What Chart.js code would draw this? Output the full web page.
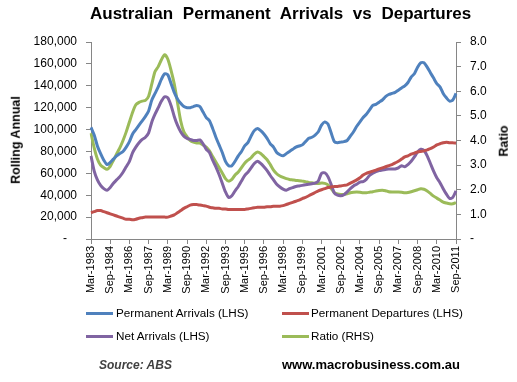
<!DOCTYPE html>
<html><head><meta charset="utf-8">
<script src="https://cdn.jsdelivr.net/npm/chart.js@4/dist/chart.umd.min.js"></script>
<style>
html,body{margin:0;padding:0;background:#fff;}
#wrap{position:relative;width:517px;height:382px;overflow:hidden;font-family:"Liberation Sans",Arial,sans-serif;color:#000;}
canvas{position:absolute;left:0;top:0;}
.t{position:absolute;white-space:nowrap;line-height:1;}
.rot{position:absolute;white-space:nowrap;line-height:1;transform:translate(-50%,-50%) rotate(-90deg);font-weight:bold;font-size:12.5px;}
.sw{position:absolute;height:3px;width:27px;}
</style></head>
<body><div id="wrap">
<canvas id="c" width="517" height="382"></canvas>
<div class="t" style="left:90px;top:5px;font-size:17px;font-weight:bold;word-spacing:5px;">Australian Permanent Arrivals vs Departures</div>
<div class="rot" style="left:16px;top:140px;">Rolling Annual</div>
<div class="rot" style="left:504px;top:141px;">Ratio</div>
<div id="legend"></div>
<div class="t" style="left:99px;top:359px;font-size:12px;font-weight:bold;font-style:italic;color:#404040;">Source: ABS</div>
<div class="t" style="left:282px;top:358px;font-size:13px;font-weight:bold;">www.macrobusiness.com.au</div>
</div>
<script>
// Quarterly categories Mar-1983 .. Sep-2011
const months = ["Mar","Jun","Sep","Dec"];
const quarters = [];
for (let y = 1983; y <= 2011; y++) for (const m of months) { if (y === 2011 && m === "Dec") break; quarters.push(m + "-" + y); }

const tickLabels = ["Mar-1983","Sep-1984","Mar-1986","Sep-1987","Mar-1989","Sep-1990","Mar-1992","Sep-1993","Mar-1995","Sep-1996","Mar-1998","Sep-1999","Mar-2001","Sep-2002","Mar-2004","Sep-2005","Mar-2007","Sep-2008","Mar-2010","Sep-2011"];

// Rolling annual, thousands
const arrivals = [102,95,85,78,72,68,70,73,76,78,80,84,89,96,100,104,108,112,117,127,133,139,146,151,150,142,134,128,124,121,120,120,121,122,121,116,111,108,101,93,86,79,71,67,67,71,76,80,85,88,94,99,101,99,96,92,87,84,79,77,76,78,80,82,84,85,86,89,92,93,95,98,104,107,105,97,89,88,88.5,89,90,94,98,103,107,111,114,118,122,123,125,127,130,132,133,134,136,138,140,143,148,151,157,161,161,157,152,147,142,139,133,129,126,127,133];
const departures = [24,25,26,26,25,24,23,22,21,20,19,18,18,17.5,18,19,19.5,20,20,20,20,20,20,20,20,21,22,24,26,28,29.5,31,31.5,31.5,31,30.5,30,29,28.5,28,28,27.5,27.5,27,27,27,27,27,27,27.5,28,28.5,29,29,29,29.5,29.5,30,30,30,30.5,31.5,32.5,33.5,34.5,35.5,37,38,39.5,41,42.5,44,45,46,47,47.5,48,48,48.5,49,49.5,51,52.5,54,56,58.5,60,61,62,63,64,65,66,67,68,69.5,71,73,75,76,77.5,78.5,79.5,80,80.5,81.5,82.5,84,86,87,88,88.5,88,88,87.5];
const netArrivals = [76,62,54,49,46,44.5,47,51,54,57,61,66,71,79,84,88,91,93,97,107,114,120,126,130,129,122,112,104,98,94,92,91,90,90,90.5,87,82,79,72,66,59,51,43,38,39.5,44,48,53,58,61,65,69,71,69,66,62.5,58,54,50,47.5,45.5,44.5,46,47,48,48.5,49,49.5,50,50.5,51,53,60,60.5,57,50,42,40,39.5,40.5,43,46,48.5,50,52,52.5,54.5,58,60,61.5,62.5,63,63.5,64,64,64,65,67,66,68,71,75,79.5,82,81,76,69,62,56,51.5,46,41,37,38,44];
const ratio = [4.3,3.7,3.25,3.0,2.9,2.83,2.95,3.2,3.45,3.7,4.0,4.35,4.75,5.15,5.45,5.55,5.6,5.63,5.8,6.3,6.8,7.0,7.28,7.48,7.3,6.85,6.3,5.55,4.8,4.35,4.15,4.0,3.93,3.9,3.9,3.82,3.73,3.58,3.35,3.13,2.9,2.68,2.45,2.35,2.42,2.6,2.72,2.9,3.08,3.2,3.3,3.45,3.53,3.47,3.35,3.22,3.02,2.8,2.65,2.56,2.5,2.45,2.42,2.4,2.38,2.37,2.35,2.33,2.3,2.28,2.26,2.25,2.27,2.26,2.2,2.05,1.88,1.83,1.81,1.81,1.84,1.88,1.9,1.91,1.9,1.88,1.88,1.9,1.92,1.95,1.97,1.98,1.96,1.92,1.91,1.91,1.91,1.9,1.88,1.89,1.92,1.96,2.0,2.04,2.02,1.95,1.85,1.74,1.66,1.58,1.5,1.46,1.43,1.43,1.48];

const leftTicks = [0,20000,40000,60000,80000,100000,120000,140000,160000,180000];
const rightTicks = [0,1,2,3,4,5,6,7,8];

const seriesNames = ["Permanent Arrivals (LHS)","Permanent Departures (LHS)","Net Arrivals (LHS)","Ratio (RHS)"];
const colors = ["#4F81BD","#C0504D","#8064A2","#9BBB59"];

const toPeople = a => a.map(v => v * 1000);
const AX = "#868686";
const FONT = "Liberation Sans";

new Chart(document.getElementById("c"), {
  type: "line",
  data: {
    labels: quarters,
    datasets: [
      {label: seriesNames[0], data: toPeople(arrivals), borderColor: colors[0], yAxisID: "y"},
      {label: seriesNames[1], data: toPeople(departures), borderColor: colors[1], yAxisID: "y"},
      {label: seriesNames[2], data: toPeople(netArrivals), borderColor: colors[2], yAxisID: "y"},
      {label: seriesNames[3], data: ratio, borderColor: colors[3], yAxisID: "y1"}
    ]
  },
  options: {
    responsive: false, animation: false,
    layout: {padding: {top: 42, left: 0, right: 0, bottom: 0}},
    plugins: {legend: {display: false}, title: {display: false}, tooltip: {enabled: false}},
    elements: {point: {radius: 0}, line: {borderWidth: 3, tension: 0.25, fill: false}},
    scales: {
      x: {
        type: "category", offset: false,
        grid: {display: true, drawOnChartArea: false, drawTicks: true, tickLength: 5, color: AX, offset: false},
        border: {color: AX, width: 1},
        ticks: {autoSkip: false, maxRotation: 90, minRotation: 90, padding: 2, color: "#000",
          font: {family: FONT, size: 11},
          callback: (v, i) => tickLabels.includes(quarters[i]) ? quarters[i] : null},
        afterFit: s => { s.height = 143; }
      },
      y: {
        position: "left", min: 0, max: 180000,
        grid: {drawOnChartArea: false, drawTicks: true, tickLength: 5, color: AX},
        border: {color: AX, width: 1},
        afterBuildTicks: s => { s.ticks = leftTicks.map(v => ({value: v})); },
        ticks: {padding: 9, color: "#000", font: {family: FONT, size: 12},
          callback: v => v === 0 ? "-   " : v.toLocaleString("en-US")},
        afterFit: s => { s.width = 91; }
      },
      y1: {
        position: "right", min: 0, max: 8,
        grid: {drawOnChartArea: false, drawTicks: true, tickLength: 5, color: AX},
        border: {color: AX, width: 1},
        afterBuildTicks: s => { s.ticks = rightTicks.map(v => ({value: v})); },
        ticks: {padding: 9, color: "#000", font: {family: FONT, size: 12},
          callback: v => v === 0 ? "-" : v.toFixed(1)},
        afterFit: s => { s.width = 61; }
      }
    }
  }
});

// legend
const lg = document.getElementById("legend");
const pos = [[86,313,116,307],[282,313,311,307],[86,336,116,330],[282,336,311,330]];
seriesNames.forEach((n, k) => {
  const [lx, ly, tx, ty] = pos[k];
  const sw = document.createElement("div"); sw.className = "sw";
  sw.style.left = lx + "px"; sw.style.top = (ly - 1.5) + "px"; sw.style.background = colors[k];
  lg.appendChild(sw);
  const t = document.createElement("div"); t.className = "t";
  t.style.left = tx + "px"; t.style.top = ty + "px"; t.style.fontSize = "11.7px"; t.textContent = n;
  lg.appendChild(t);
});
</script>
</body></html>
